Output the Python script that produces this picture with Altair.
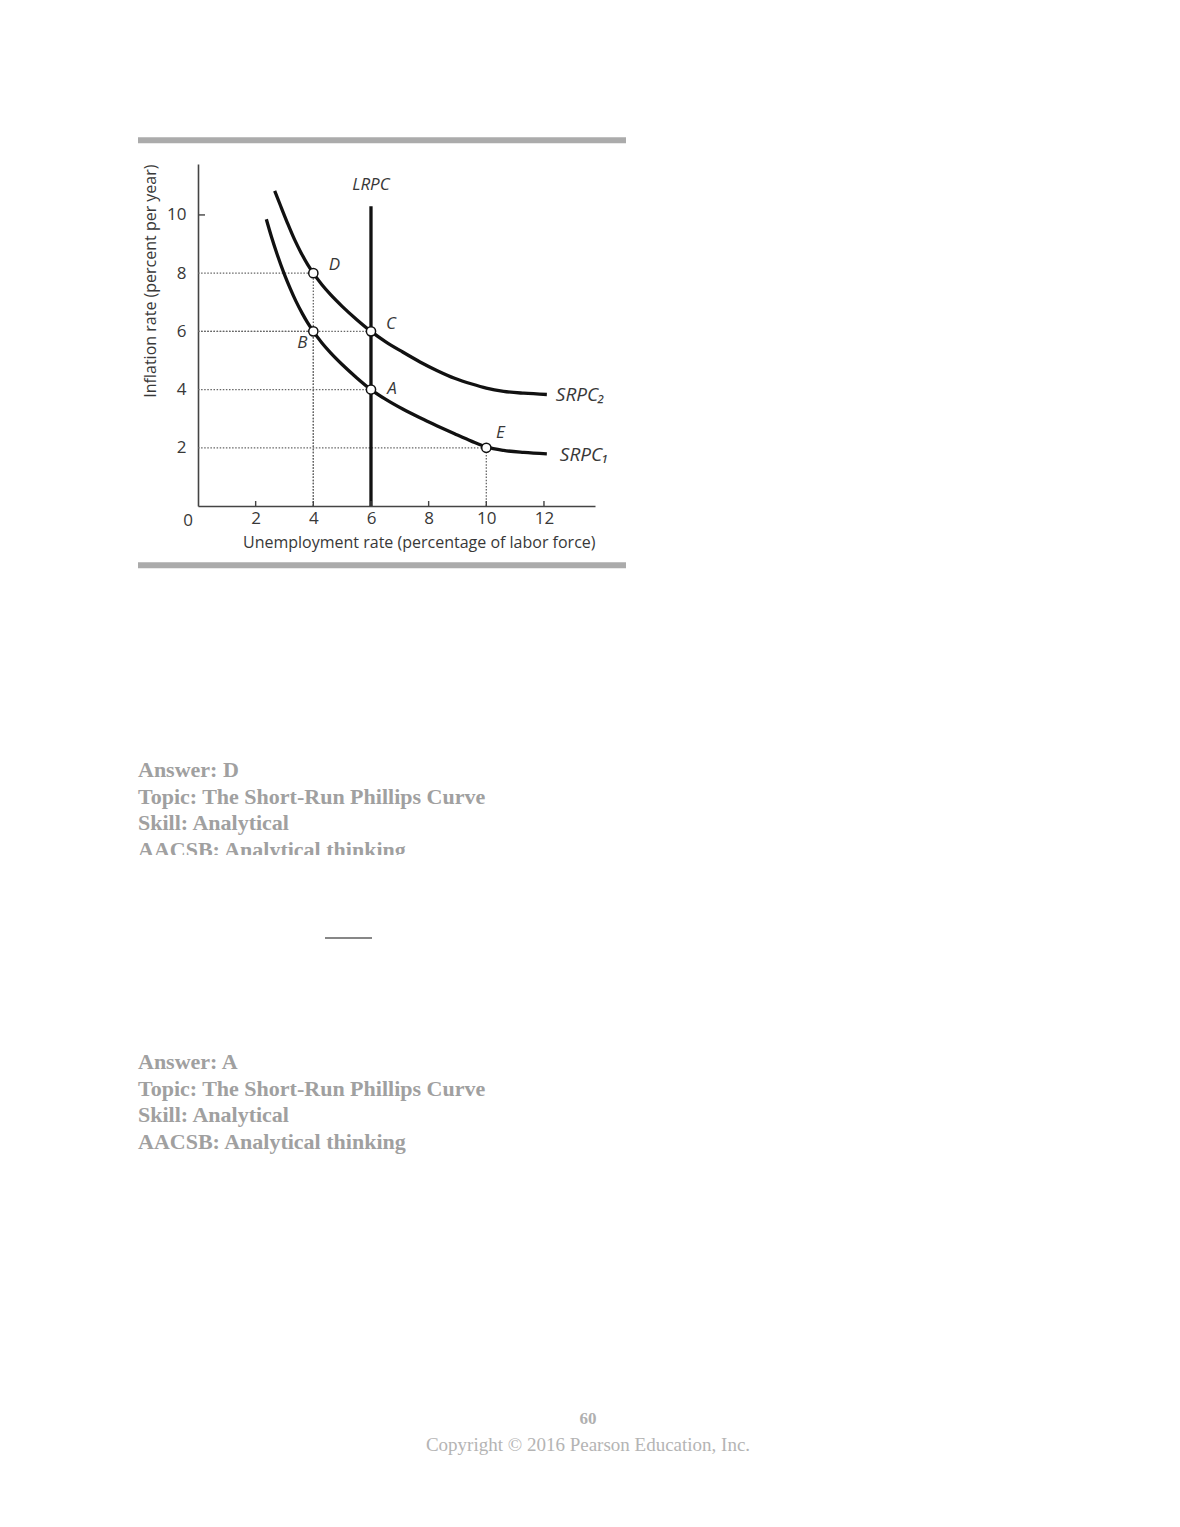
import altair as alt
import pandas as pd

# ---------------- data ----------------
x_ticks = [2, 4, 6, 8, 10, 12]
y_ticks = [2, 4, 6, 8, 10]

srpc1_x = [2.37, 2.55, 2.75, 3.0, 3.2, 3.4, 3.62, 3.8, 4.0, 4.3, 4.6, 5.0, 5.5, 6.0,
           6.5, 7.1, 7.7, 8.3, 8.9, 9.5, 10.0, 10.6, 11.3, 12.1]
srpc1_y = [9.85, 9.24, 8.63, 7.95, 7.47, 7.03, 6.61, 6.30, 6.0, 5.6, 5.26, 4.86, 4.41, 4.0,
           3.67, 3.33, 3.03, 2.75, 2.48, 2.22, 2.03, 1.91, 1.84, 1.79]
srpc2_x = [2.66, 2.85, 3.1, 3.35, 3.56, 3.8, 4.0, 4.3, 4.6, 5.0, 5.5, 6.0,
           6.5, 7.1, 7.7, 8.3, 8.9, 9.5, 10.0, 10.6, 11.3, 12.1]
srpc2_y = [10.83, 10.35, 9.73, 9.15, 8.73, 8.30, 8.0, 7.60, 7.26, 6.86, 6.41, 6.0,
           5.65, 5.29, 4.95, 4.65, 4.39, 4.19, 4.05, 3.94, 3.875, 3.83]
lrpc_x = [6, 6]
lrpc_y = [0, 10.3]

point_names = ["A", "B", "C", "D", "E"]
point_x = [6, 4, 6, 4, 10]
point_y = [4, 6, 6, 8, 2]

curve_names = ["SRPC\u2081", "SRPC\u2082"]
x_title = "Unemployment rate (percentage of labor force)"
y_title = "Inflation rate (percent per year)"

block1 = ["Answer:  D", "Topic:  The Short-Run Phillips Curve", "Skill:  Analytical",
          "AACSB:  Analytical thinking"]
block2 = ["Answer:  A", "Topic:  The Short-Run Phillips Curve", "Skill:  Analytical",
          "AACSB:  Analytical thinking"]
page_number = "60"
copyright_line = "Copyright \u00a9 2016 Pearson Education, Inc."

# ---------------- layout / style ----------------
W, H = 397, 342
X_MAX, Y_MAX = 13.77, 11.75
FONT = "Open Sans"
TXT = "#383838"
INK = "#111111"

xs = alt.Scale(domain=[0, X_MAX], nice=False, zero=False)
ys = alt.Scale(domain=[0, Y_MAX], nice=False, zero=False)

curve_df = pd.concat([
    pd.DataFrame({"x": srpc1_x, "y": srpc1_y, "s": curve_names[0], "i": range(len(srpc1_x))}),
    pd.DataFrame({"x": srpc2_x, "y": srpc2_y, "s": curve_names[1], "i": range(len(srpc2_x))}),
])
lrpc_df = pd.DataFrame({"x": lrpc_x, "y": lrpc_y})
pts_df = pd.DataFrame({"name": point_names, "x": point_x, "y": point_y})

# dotted guide segments derived from the points
seg = []
for px, py in zip(point_x, point_y):
    seg.append({"x": 0, "y": py, "x2": px, "y2": py})
    if px != lrpc_x[0]:
        seg.append({"x": px, "y": 0, "x2": px, "y2": py})
seg_df = pd.DataFrame(seg)

base_x = alt.X("x:Q", scale=xs, axis=alt.Axis(
    values=x_ticks, title=x_title, titleAnchor="end", titleFont=FONT, titleFontSize=16,
    titleFontWeight="normal", titleColor=TXT, titlePadding=8, labelFont=FONT,
    labelFontSize=17, labelColor=TXT, labelPadding=4, ticks=False, grid=False,
    domainColor="#444", domainWidth=1.6, labelFlush=False, labelOverlap=False))
base_y = alt.Y("y:Q", scale=ys, axis=alt.Axis(
    values=y_ticks, title=y_title, titleAnchor="end", titleFont=FONT, titleFontSize=16,
    titleFontWeight="normal", titleColor=TXT, titlePadding=8, labelFont=FONT,
    labelFontSize=17, labelColor=TXT, labelPadding=12, ticks=False, grid=False,
    domainColor="#444", domainWidth=1.6, labelFlush=False, labelOverlap=False))

guides = alt.Chart(seg_df).mark_rule(color="#666", strokeWidth=1.3, strokeDash=[1.5, 1.6]).encode(
    x=base_x, y=base_y, x2="x2:Q", y2="y2:Q")

lrpc = alt.Chart(lrpc_df).mark_line(color=INK, strokeWidth=3.3).encode(
    x=alt.X("x:Q", scale=xs), y=alt.Y("y:Q", scale=ys))

curves = alt.Chart(curve_df).mark_line(color=INK, strokeWidth=3.3, interpolate="monotone").encode(
    x=alt.X("x:Q", scale=xs), y=alt.Y("y:Q", scale=ys), detail="s:N", order="i:Q")

xtick_df = pd.DataFrame({"x": x_ticks})
xticks = alt.Chart(xtick_df).mark_rule(color="#444", strokeWidth=1.4).encode(
    x=alt.X("x:Q", scale=xs), y=alt.value(H), y2=alt.value(H - 5))

ytick_df = pd.DataFrame({"y": [y_ticks[-1]]})
yticks = alt.Chart(ytick_df).mark_rule(color="#444", strokeWidth=1.4).encode(
    y=alt.Y("y:Q", scale=ys), x=alt.value(0), x2=alt.value(7))

zero_df = pd.DataFrame({"x": [0]})
zero_lbl = alt.Chart(zero_df).mark_text(font=FONT, fontSize=17, color=TXT, dx=-10,
                                        baseline="middle").encode(
    x=alt.X("x:Q", scale=xs), y=alt.value(H + 15), text=alt.value("0"))

points = alt.Chart(pts_df).mark_point(shape="circle", size=85, filled=True, fill="white",
                                      stroke=INK, strokeWidth=1.5, opacity=1).encode(
    x=alt.X("x:Q", scale=xs), y=alt.Y("y:Q", scale=ys))

# per-point label offsets (pixels)
label_offsets = {"A": (21, -1), "B": (-11, 12), "C": (20, -7), "D": (21, -8), "E": (14, -15)}
point_labels = []
for nm in point_names:
    dx, dy = label_offsets[nm]
    point_labels.append(
        alt.Chart(pts_df[pts_df["name"] == nm]).mark_text(
            font=FONT, fontSize=17, fontStyle="italic", color=TXT, dx=dx, dy=dy,
            baseline="middle", align="center").encode(
            x=alt.X("x:Q", scale=xs), y=alt.Y("y:Q", scale=ys), text="name:N"))

end1 = pd.DataFrame({"x": [srpc1_x[-1]], "y": [srpc1_y[-1]], "t": [curve_names[0]]})
end2 = pd.DataFrame({"x": [srpc2_x[-1]], "y": [srpc2_y[-1]], "t": [curve_names[1]]})
top_l = pd.DataFrame({"x": [lrpc_x[1]], "y": [lrpc_y[1]], "t": ["LRPC"]})

lab1 = alt.Chart(end1).mark_text(font=FONT, fontSize=19, fontStyle="italic", color=TXT,
                                 align="left", baseline="middle", dx=13, dy=1).encode(
    x=alt.X("x:Q", scale=xs), y=alt.Y("y:Q", scale=ys), text="t:N")
lab2 = alt.Chart(end2).mark_text(font=FONT, fontSize=19, fontStyle="italic", color=TXT,
                                 align="left", baseline="middle", dx=9, dy=0).encode(
    x=alt.X("x:Q", scale=xs), y=alt.Y("y:Q", scale=ys), text="t:N")
lab3 = alt.Chart(top_l).mark_text(font=FONT, fontSize=17, fontStyle="italic", color=TXT,
                                  align="center", baseline="middle", dy=-21).encode(
    x=alt.X("x:Q", scale=xs), y=alt.Y("y:Q", scale=ys), text="t:N")

one = pd.DataFrame({"a": [0]})
bar_top = alt.Chart(one).mark_rule(color="#ababab", strokeWidth=6).encode(
    x=alt.value(-60), x2=alt.value(428), y=alt.value(-23.7))
bar_bot = alt.Chart(one).mark_rule(color="#ababab", strokeWidth=6).encode(
    x=alt.value(-60), x2=alt.value(428), y=alt.value(401.3))

# page text (blurred in the reference: rendered light grey)
page_layers = []
for i, line in enumerate(block1):
    page_layers.append(alt.Chart(one).mark_text(
        font="Liberation Serif", fontSize=22, fontWeight="bold", color="#a0a0a0",
        align="left", baseline="middle").encode(
        x=alt.value(-60), y=alt.value(606 + i * 26.7), text=alt.value(line)))
for i, line in enumerate(block2):
    page_layers.append(alt.Chart(one).mark_text(
        font="Liberation Serif", fontSize=22, fontWeight="bold", color="#a0a0a0",
        align="left", baseline="middle").encode(
        x=alt.value(-60), y=alt.value(898 + i * 26.7), text=alt.value(line)))
cover = alt.Chart(one).mark_rect(color="white").encode(
    x=alt.value(-70), x2=alt.value(500), y=alt.value(691), y2=alt.value(720))
underline = alt.Chart(one).mark_rule(color="#111", strokeWidth=1.2).encode(
    x=alt.value(127), x2=alt.value(174), y=alt.value(774))
pnum = alt.Chart(one).mark_text(font="Liberation Serif", fontSize=17, fontWeight="bold",
                                color="#b0b0b0", baseline="middle").encode(
    x=alt.value(390), y=alt.value(1255), text=alt.value(page_number))
copy = alt.Chart(one).mark_text(font="Liberation Serif", fontSize=19, color="#b4b4b4",
                                baseline="middle").encode(
    x=alt.value(390), y=alt.value(1281), text=alt.value(copyright_line))

chart = alt.layer(
    guides, lrpc, curves, xticks, yticks, zero_lbl, points, *point_labels,
    lab1, lab2, lab3, bar_top, bar_bot, *page_layers, cover, underline, pnum, copy
).properties(
    width=W, height=H,
    autosize=alt.AutoSizeParams(type="none"),
    padding={"left": 190, "top": 156, "right": 1164 - 190 - W, "bottom": 1505 - 156 - H},
    background="white",
).configure_view(stroke=None)

chart.save("out.html", embed_options={"renderer": "svg", "actions": False})
